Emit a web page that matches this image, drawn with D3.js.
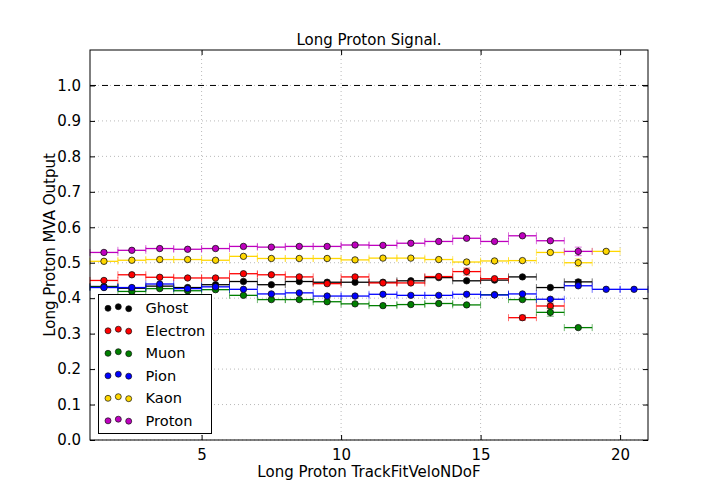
<!DOCTYPE html>
<html>
<head>
<meta charset="utf-8">
<script src="https://cdn.jsdelivr.net/npm/d3@7"></script>
<style>
  body { margin: 0; background: white; }
  text { font-family: "DejaVu Sans", sans-serif; fill: black; }
</style>
</head>
<body>
<svg id="chart"></svg>
<script>
// bin centres of TrackFitVeloNDoF, one bin per unit
const bins = [1.5, 2.5, 3.5, 4.5, 5.5, 6.5, 7.5, 8.5, 9.5, 10.5, 11.5, 12.5, 13.5, 14.5, 15.5, 16.5, 17.5, 18.5, 19.5, 20.5]

const ghost    = [0.433, 0.428, 0.434, 0.430, 0.438, 0.447, 0.438, 0.447, 0.445, 0.445, 0.445, 0.449, 0.458, 0.449, 0.451, 0.460, 0.430, 0.446, null, null]
const electron = [0.450, 0.466, 0.459, 0.457, 0.457, 0.469, 0.466, 0.460, 0.441, 0.460, 0.443, 0.443, 0.461, 0.475, 0.455, 0.345, 0.378, null, null, null]
const muon     = [0.431, 0.419, 0.427, 0.421, 0.424, 0.408, 0.396, 0.396, 0.390, 0.384, 0.379, 0.382, 0.385, 0.381, 0.410, 0.396, 0.360, 0.317, null, null]
const pion     = [0.430, 0.430, 0.440, 0.427, 0.432, 0.425, 0.412, 0.415, 0.406, 0.406, 0.411, 0.408, 0.408, 0.411, 0.409, 0.412, 0.397, 0.435, 0.425, 0.425]
const kaon     = [0.504, 0.507, 0.509, 0.509, 0.507, 0.518, 0.512, 0.512, 0.512, 0.508, 0.513, 0.513, 0.509, 0.502, 0.505, 0.506, 0.529, 0.500, 0.532, null]
const proton   = [0.529, 0.535, 0.540, 0.538, 0.540, 0.546, 0.544, 0.546, 0.546, 0.550, 0.549, 0.555, 0.560, 0.569, 0.560, 0.576, 0.562, 0.532, null, null]

// vertical errors
const ghostErr    = [0.002, 0.002, 0.002, 0.002, 0.002, 0.002, 0.002, 0.002, 0.002, 0.002, 0.002, 0.002, 0.003, 0.003, 0.003, 0.003, 0.004, 0.006, 0, 0]
const electronErr = [0.003, 0.003, 0.003, 0.003, 0.003, 0.003, 0.003, 0.003, 0.003, 0.003, 0.003, 0.003, 0.004, 0.010, 0.005, 0.007, 0.008, 0, 0, 0]
const muonErr     = [0.002, 0.002, 0.002, 0.002, 0.002, 0.002, 0.002, 0.002, 0.002, 0.002, 0.002, 0.002, 0.003, 0.003, 0.005, 0.005, 0.011, 0.005, 0, 0]
const pionErr     = [0.002, 0.002, 0.002, 0.002, 0.002, 0.002, 0.002, 0.002, 0.002, 0.002, 0.002, 0.002, 0.002, 0.002, 0.002, 0.003, 0.003, 0.004, 0.003, 0.003]
const kaonErr     = [0.002, 0.002, 0.002, 0.002, 0.002, 0.002, 0.002, 0.002, 0.002, 0.002, 0.002, 0.002, 0.002, 0.003, 0.003, 0.003, 0.004, 0.011, 0.004, 0]
const protonErr   = [0.002, 0.002, 0.002, 0.002, 0.002, 0.002, 0.002, 0.002, 0.002, 0.002, 0.002, 0.002, 0.002, 0.003, 0.003, 0.003, 0.004, 0.012, 0, 0]

const names  = ["Ghost", "Electron", "Muon", "Pion", "Kaon", "Proton"]
const colors = ["black", "#ff0000", "#008000", "#0000ff", "#ffd700", "#bf00bf"]

const xTicks = [5, 10, 15, 20]
const yTicks = [0.0, 0.1, 0.2, 0.3, 0.4, 0.5, 0.6, 0.7, 0.8, 0.9, 1.0]

const series = [ghost, electron, muon, pion, kaon, proton]
const errors = [ghostErr, electronErr, muonErr, pionErr, kaonErr, protonErr]

const width = 720
const height = 504
const margin = {left: 90, right: 72, top: 50, bottom: 64}

const svg = d3.select("#chart")
  .attr("width", width)
  .attr("height", height)

svg.append("rect")
  .attr("width", width)
  .attr("height", height)
  .attr("fill", "white")

const x = d3.scaleLinear().domain([1, 21]).range([margin.left, width - margin.right])
const y = d3.scaleLinear().domain([0, 1.1]).range([height - margin.bottom, margin.top])

// grid
const grid = svg.append("g")
  .attr("stroke", "#a8a8a8")
  .attr("stroke-width", 0.8)
  .attr("stroke-dasharray", "1,3")
grid.selectAll(".gx")
  .data(xTicks)
  .join("line")
    .attr("x1", d => x(d)).attr("x2", d => x(d))
    .attr("y1", y(0)).attr("y2", y(1.1))
grid.selectAll(".gy")
  .data(yTicks)
  .join("line")
    .attr("y1", d => y(d)).attr("y2", d => y(d))
    .attr("x1", x(1)).attr("x2", x(21))

// reference line at 1
svg.append("line")
  .attr("x1", x(1)).attr("x2", x(21))
  .attr("y1", y(1)).attr("y2", y(1))
  .attr("stroke", "black")
  .attr("stroke-width", 1)
  .attr("stroke-dasharray", "6,6")

// error bar points
series.forEach(function (vals, s) {
  const color = colors[s]
  const pts = bins.map((b, i) => ({b: b, v: vals[i], e: errors[s][i]})).filter(d => d.v != null)
  const g = svg.append("g")

  g.selectAll(".h")
    .data(pts)
    .join("line")
      .attr("x1", d => x(d.b - 0.5)).attr("x2", d => x(d.b + 0.5))
      .attr("y1", d => y(d.v)).attr("y2", d => y(d.v))
      .attr("stroke", color)
      .attr("stroke-width", 1.3)

  g.selectAll(".v")
    .data(pts.filter(d => d.e > 0))
    .join("line")
      .attr("x1", d => x(d.b)).attr("x2", d => x(d.b))
      .attr("y1", d => y(d.v - d.e)).attr("y2", d => y(d.v + d.e))
      .attr("stroke", color)
      .attr("stroke-width", 1.3)

  // caps, x ends then y ends
  const caps = []
  pts.forEach(function (d) {
    caps.push({x1: x(d.b - 0.5), x2: x(d.b - 0.5), y1: y(d.v) - 3.5, y2: y(d.v) + 3.5})
    caps.push({x1: x(d.b + 0.5), x2: x(d.b + 0.5), y1: y(d.v) - 3.5, y2: y(d.v) + 3.5})
    if (y(d.v - d.e) - y(d.v + d.e) > 4) {
      caps.push({x1: x(d.b) - 3.5, x2: x(d.b) + 3.5, y1: y(d.v + d.e), y2: y(d.v + d.e)})
      caps.push({x1: x(d.b) - 3.5, x2: x(d.b) + 3.5, y1: y(d.v - d.e), y2: y(d.v - d.e)})
    }
  })
  g.selectAll(".cap")
    .data(caps)
    .join("line")
      .attr("x1", d => d.x1).attr("x2", d => d.x2)
      .attr("y1", d => d.y1).attr("y2", d => d.y2)
      .attr("stroke", color)
      .attr("stroke-opacity", 0.55)
      .attr("stroke-width", 1)

  g.selectAll("circle")
    .data(pts)
    .join("circle")
      .attr("cx", d => x(d.b))
      .attr("cy", d => y(d.v))
      .attr("r", 3.2)
      .attr("fill", color)
      .attr("stroke", "#111")
      .attr("stroke-width", 0.8)
})

// frame
svg.append("rect")
  .attr("x", x(1)).attr("y", y(1.1))
  .attr("width", x(21) - x(1)).attr("height", y(0) - y(1.1))
  .attr("fill", "none")
  .attr("stroke", "black")
  .attr("stroke-width", 1)

// axes with inward ticks
svg.append("g")
  .attr("transform", `translate(0,${y(0)})`)
  .call(d3.axisBottom(x).tickValues(xTicks).tickSize(-5).tickPadding(9).tickFormat(d3.format("d")))
  .call(g => g.select(".domain").remove())
svg.append("g")
  .attr("transform", `translate(0,${y(1.1)})`)
  .call(d3.axisTop(x).tickValues(xTicks).tickSize(-5).tickFormat(""))
  .call(g => g.select(".domain").remove())
svg.append("g")
  .attr("transform", `translate(${x(1)},0)`)
  .call(d3.axisLeft(y).tickValues(yTicks).tickSize(-5).tickPadding(9).tickFormat(d3.format(".1f")))
  .call(g => g.select(".domain").remove())
svg.append("g")
  .attr("transform", `translate(${x(21)},0)`)
  .call(d3.axisRight(y).tickValues(yTicks).tickSize(-5).tickFormat(""))
  .call(g => g.select(".domain").remove())

svg.selectAll(".tick text")
  .style("font-family", "'DejaVu Sans', sans-serif")
  .style("font-size", "15px")

// titles
svg.append("text")
  .attr("x", (x(1) + x(21)) / 2)
  .attr("y", 45)
  .attr("text-anchor", "middle")
  .style("font-size", "15px")
  .text("Long Proton Signal.")

svg.append("text")
  .attr("x", (x(1) + x(21)) / 2)
  .attr("y", 477)
  .attr("text-anchor", "middle")
  .style("font-size", "15px")
  .text("Long Proton TrackFitVeloNDoF")

svg.append("text")
  .attr("transform", `translate(55,${(y(0) + y(1.1)) / 2}) rotate(-90)`)
  .attr("text-anchor", "middle")
  .style("font-size", "15px")
  .text("Long Proton MVA Output")

// legend
const legend = svg.append("g")
legend.append("rect")
  .attr("x", 98.5).attr("y", 294.5)
  .attr("width", 113).attr("height", 139)
  .attr("fill", "white")
  .attr("stroke", "black")
  .attr("stroke-width", 1)

const dotOffsets = [[108, 0.8], [118.3, -0.8], [128.7, 1.2]]
names.forEach(function (name, i) {
  const cy = 307.5 + i * 22.5
  legend.selectAll(".ld" + i)
    .data(dotOffsets)
    .join("circle")
      .attr("cx", d => d[0])
      .attr("cy", d => cy + d[1])
      .attr("r", 3)
      .attr("fill", colors[i])
      .attr("stroke", "#111")
      .attr("stroke-width", 0.7)
  legend.append("text")
    .attr("x", 145.5)
    .attr("y", cy + 5.5)
    .style("font-size", "14.6px")
    .text(name)
})
</script>
</body>
</html>
